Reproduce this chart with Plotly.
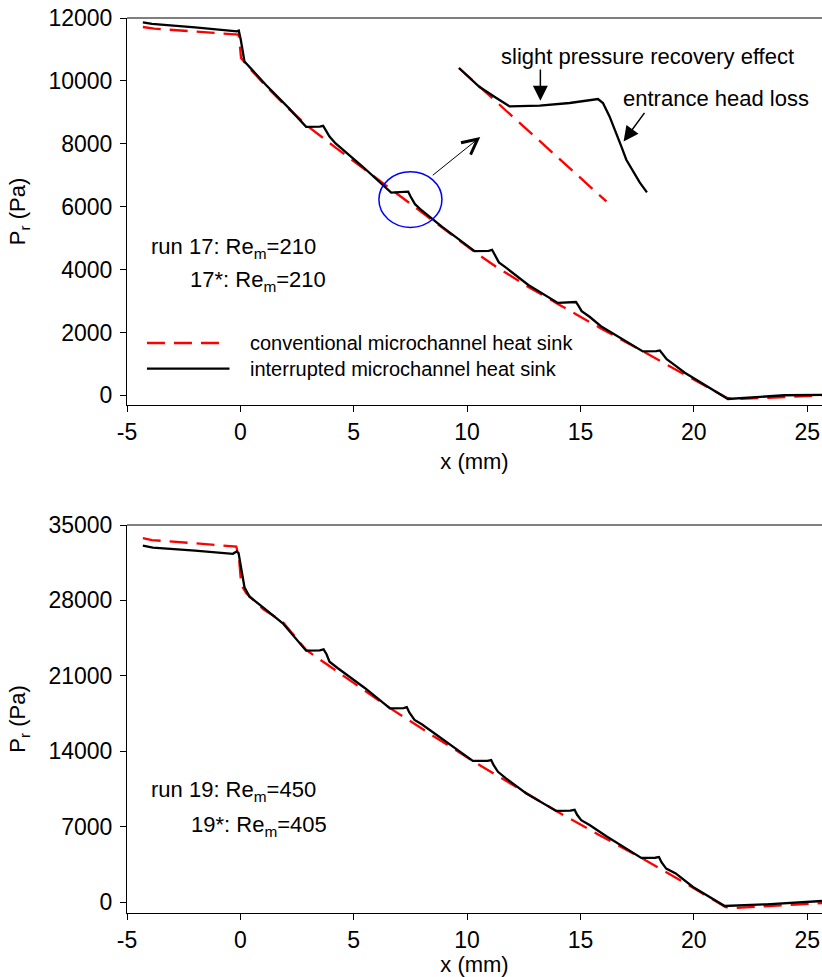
import plotly.graph_objects as go

# ---------------- data ----------------
# Run 17 (top panel)
x_conv17 = [-4.3, -3.8, -2.0, -0.08, -0.02, 0.03, 0.26, 1.14, 2.17, 2.9, 4.2, 5.4, 6.65, 7.6, 8.9,
            10.33, 11.3, 12.7, 14.0, 15.9, 17.75, 19.6, 21.45, 21.8, 23.0, 24.5, 25.65]
y_conv17 = [11714, 11660, 11570, 11470, 11100, 10730, 10515, 9825, 9084, 8600, 7880, 7230, 6560, 6020, 5330,
            4560, 4080, 3450, 2910, 2130, 1400, 660, -75, -120, -80, -20, 0]

x_int17 = [-4.3, -3.9, -2.0, -0.15, -0.07, 0.02, 0.18, 0.4, 1.14, 2.17, 2.9, 3.5, 3.65, 3.75, 3.93, 4.2,
           5.4, 6.65, 7.25, 7.4, 7.5, 7.7, 8.0, 8.9, 10.33, 10.95, 11.1, 11.2, 11.4, 11.7, 12.7, 14.0,
           14.65, 14.8, 14.9, 15.05, 15.4, 15.9, 17.75, 18.35, 18.5, 18.6, 18.8, 19.2, 19.6, 21.5,
           22.5, 24.0, 25.65]
y_int17 = [11860, 11810, 11700, 11574, 11600, 11300, 10620, 10440, 9860, 9110, 8540, 8545, 8570, 8450, 8230, 8010,
           7270, 6450, 6455, 6480, 6330, 6080, 5880, 5360, 4590, 4595, 4630, 4500, 4230, 4070, 3510, 2940,
           2945, 2970, 2860, 2680, 2500, 2200, 1400, 1405, 1430, 1330, 1150, 940, 720, -115,
           -70, 5, 20]

# magnified detail (inset) drawn in the top panel
x_zoom_conv = [9.64, 16.14]
y_zoom_conv = [10410, 6170]
x_zoom_int = [9.64, 10.55, 11.29, 11.87, 13.2, 14.52, 15.77, 15.99, 16.28, 16.58, 16.8, 17.02, 17.31, 17.61, 17.93]
y_zoom_int = [10410, 9806, 9456, 9190, 9211, 9297, 9424, 9297, 8871, 8343, 7917, 7494, 7122, 6773, 6455]

# Run 19 (bottom panel)
x_conv19 = [-4.3, -3.9, -2.0, -0.18, -0.06, 0.04, 0.26, 1.0, 1.87, 2.9, 4.1, 5.5, 6.6, 8.4, 10.25,
            12.1, 13.93, 15.8, 17.68, 19.5, 21.4, 21.8, 23.0, 24.5, 25.65]
y_conv19 = [33782, 33600, 33300, 33001, 31900, 29441, 28670, 27200, 26000, 23400, 21650, 19600, 18000, 15560, 13100,
            10760, 8450, 6250, 4090, 1900, -480, -560, -400, -200, -100]

x_int19 = [-4.3, -3.86, -2.0, -0.33, -0.16, -0.08, 0.18, 0.4, 1.0, 1.87, 2.9, 3.5, 3.67, 3.8, 3.93, 4.3,
           5.5, 6.6, 7.2, 7.34, 7.45, 7.68, 8.0, 9.52, 10.25, 10.9, 11.06, 11.17, 11.36, 11.7, 12.61,
           13.93, 14.55, 14.74, 14.85, 15.03, 15.4, 16.14, 17.68, 18.3, 18.46, 18.57, 18.78, 19.2, 19.96,
           21.36, 23.2, 25.65]
y_int19 = [33094, 32908, 32620, 32323, 32540, 32390, 29230, 28350, 27350, 25880, 23334, 23360, 23450, 23000, 22310, 21700,
           19850, 17980, 18000, 18100, 17600, 16900, 16500, 14260, 13108, 13110, 13180, 12700, 12085, 11500, 10077,
           8460, 8480, 8560, 8100, 7595, 7150, 6100, 4090, 4110, 4180, 3700, 3105, 2650, 1394,
           -372, -214, 93]

x_ticks = [-5, 0, 5, 10, 15, 20, 25]
x_ticklabels = ["-5", "0", "5", "10", "15", "20", "25"]
y_ticks17 = [0, 2000, 4000, 6000, 8000, 10000, 12000]
y_ticklabels17 = ["0", "2000", "4000", "6000", "8000", "10000", "12000"]
y_ticks19 = [0, 7000, 14000, 21000, 28000, 35000]
y_ticklabels19 = ["0", "7000", "14000", "21000", "28000", "35000"]

series_names = ["conventional microchannel heat sink", "interrupted microchannel heat sink"]

# ---------------- figure ----------------
FONT = "Arial, 'Liberation Sans', sans-serif"
RED = "#ff0000"
DASH = "18px,9px"
LW = 2.3

fig = go.Figure()

def add_pair(xc, yc, xi, yi, xa, ya):
    fig.add_trace(go.Scatter(x=xc, y=yc, mode="lines", xaxis=xa, yaxis=ya, name=series_names[0],
                             line=dict(color=RED, width=LW, dash=DASH), showlegend=False))
    fig.add_trace(go.Scatter(x=xi, y=yi, mode="lines", xaxis=xa, yaxis=ya, name=series_names[1],
                             line=dict(color="black", width=LW), showlegend=False))

add_pair(x_conv17, y_conv17, x_int17, y_int17, "x", "y")
add_pair(x_zoom_conv, y_zoom_conv, x_zoom_int, y_zoom_int, "x", "y")
add_pair(x_conv19, y_conv19, x_int19, y_int19, "x2", "y2")

axis_common = dict(showgrid=False, zeroline=False, showline=True, linecolor="black", linewidth=1,
                   ticks="outside", ticklen=6, tickwidth=1, tickcolor="black",
                   tickfont=dict(family=FONT, size=23, color="black"))

xr = [-5, 25.65]
fig.update_layout(
    width=822, height=977,
    margin=dict(l=127, r=0, t=18, b=64),
    paper_bgcolor="white", plot_bgcolor="white",
    font=dict(family=FONT, size=22, color="black"),
    xaxis=dict(domain=[0, 1], range=xr, tickvals=x_ticks, ticktext=x_ticklabels, anchor="y",
               title=dict(text="x (mm)", standoff=10, font=dict(size=22)), **axis_common),
    yaxis=dict(domain=[0.5676, 1], range=[-305, 12000], tickvals=y_ticks17, ticktext=y_ticklabels17, anchor="x",
               ticklabelstandoff=3,
               title=dict(text="P<sub>r</sub> (Pa)", standoff=16, font=dict(size=22)), **axis_common),
    xaxis2=dict(domain=[0, 1], range=xr, tickvals=x_ticks, ticktext=x_ticklabels, anchor="y2",
                title=dict(text="x (mm)", standoff=10, font=dict(size=22)), **axis_common),
    yaxis2=dict(domain=[0, 0.4335], range=[-1020, 35000], tickvals=y_ticks19, ticktext=y_ticklabels19, anchor="x2",
                ticklabelstandoff=3,
                title=dict(text="P<sub>r</sub> (Pa)", standoff=16, font=dict(size=22)), **axis_common),
)

# top frame lines
for yd in ["y domain", "y2 domain"]:
    fig.add_shape(type="line", xref="paper", yref=yd, x0=0, x1=1, y0=1, y1=1,
                  line=dict(color="#555555", width=1.5))

# blue circle marking the zoomed region
fig.add_shape(type="circle", xref="x", yref="y", x0=6.11, x1=8.89, y0=5342, y1=7113,
              line=dict(color="#0000ff", width=1.5))

# manual legend (top panel)
fig.add_shape(type="line", xref="x", yref="y", x0=-4.12, x1=-0.84, y0=1666, y1=1666,
              line=dict(color=RED, width=LW, dash=DASH))
fig.add_shape(type="line", xref="x", yref="y", x0=-4.12, x1=-0.48, y0=849, y1=849,
              line=dict(color="black", width=LW))

def txt(x, y, s, xref="x", yref="y", size=22):
    fig.add_annotation(x=x, y=y, xref=xref, yref=yref, text=s, showarrow=False,
                       xanchor="left", yanchor="middle", font=dict(family=FONT, size=size, color="black"))

txt(0.33, 1666, series_names[0], size=20)
txt(0.33, 849, series_names[1], size=20)

txt(-4.01, 4700, "run 17: Re<sub>m</sub>=210")
txt(-2.32, 3640, "17*: Re<sub>m</sub>=210")
txt(-4.01, 10300, "run 19: Re<sub>m</sub>=450", "x2", "y2")
txt(-2.27, 7100, "19*: Re<sub>m</sub>=405", "x2", "y2")

txt(11.4, 10779, "slight pressure recovery effect")
txt(16.8, 9456, "entrance head loss")

def arrow(x0, y0, x1, y1, width, head, size):
    fig.add_annotation(x=x1, y=y1, ax=x0, ay=y0, xref="x", yref="y", axref="x", ayref="y",
                       text="", showarrow=True, arrowhead=head, arrowsize=size,
                       arrowwidth=width, arrowcolor="black")

arrow(8.42, 6963, 10.58, 8216, 1, 5, 3)
arrow(13.23, 10410, 13.23, 9370, 1.5, 2, 2)
arrow(17.87, 9030, 16.9, 8076, 1.5, 2, 2)

fig.write_html("out.html")
